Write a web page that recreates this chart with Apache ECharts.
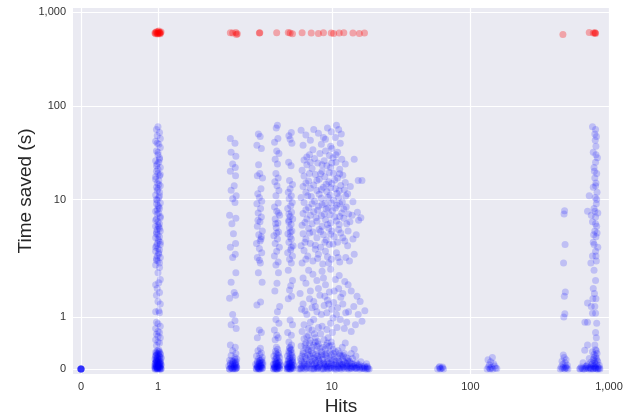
<!DOCTYPE html>
<html><head><meta charset="utf-8">
<script src="https://cdn.jsdelivr.net/npm/echarts@6/dist/echarts.min.js"></script>
<style>html,body{margin:0;padding:0;background:#fff}#c{width:634px;height:417px}</style>
</head><body><div id="c"></div>
<script>
// tick values and labels (symlog axes, linthresh 2)
const tickValues = [0, 1, 10, 100, 1000];
const tickLabels = ['0', '1', '10', '100', '1,000'];

// [hits, seconds] (x has the original's horizontal jitter)
const hitsZero = [[0,0],[0,0],[0,0],[0,0],[0,0],[0,0],[0,0],[0,0]];
const hitsOne = [
[1,0],[0.97,0],[1.03,0],[0.99,0.01],[1.02,0.02],[0.96,0.03],[1.04,0.01],[1,0.04],[0.98,0.05],[1.03,0.06],[0.97,0.07],[1.01,0.08],[1.04,0.09],[0.96,0.1],[0.99,0.11],[1.02,0.12],[0.98,0.14],[1.03,0.15],[1,0.16],[0.97,0.18],[1.02,0.19],[0.99,0.21],[1.04,0.22],[0.97,0.24],[1.01,0.25],[0.98,0.27],[1.03,0.28],[1,0.3],[0.97,0.32],[1.02,0.33],[0.99,0.35],[1.01,0.37],[1,0.02],[0.98,0.06],[1.02,0.04],[1,0.09],[0.97,0.13],[1.03,0.1],[1,0.2],[0.98,0.17],
[0.96,0],[0.99,0],[1.02,0],[1.04,0],[0.97,0.02],[1.0,0.03],[1.03,0.03],[0.98,0.04],[1.01,0.05],[0.96,0.06],[1.04,0.07],[0.99,0.08],[1.02,0.1],[0.97,0.11],[1.0,0.12],[1.03,0.13],[0.98,0.15],[1.01,0.17],[0.96,0.19],[1.04,0.2],[0.99,0.22],[1.02,0.24],[0.97,0.26],[1.0,0.28],[1.03,0.3],[0.98,0.31],[1.01,0.33],[0.99,0.02],[1.01,0.07],[1.0,0.14],
[0.98,0.45],[1.02,0.5],[1,0.52],[0.97,0.56],[1.03,0.6],[1,0.63],[0.98,0.67],[1.02,0.7],[1,0.72],[0.97,0.78],[1.03,0.82],[1,0.87],[0.98,0.9],[1.02,1.08],[0.97,1.1],[1.01,1.12],[1.03,1.25],[1,1.3],[0.98,1.42],[1.02,1.47],[0.97,1.62],[1.01,1.66],[1.03,1.72],[1,1.85],
[1.0,60],[0.98,56],[1.02,52],[0.99,48],[1.03,45],[0.97,42],[1.01,39],[1.03,36],[0.98,33],[1.0,30],[1.02,28],[0.97,26],[1.01,25],[0.99,24],[1.03,22],[0.98,20],[1.0,19],[1.02,18],[0.97,17.5],[1.01,16],[0.99,15],[1.03,14],[0.98,13.5],[1.0,13],[1.02,12],[0.97,11.2],[1.01,10.5],[0.99,9.8],[1.03,9.2],[0.98,9],[1.0,8.6],[1.02,8],[0.97,7.5],[1.01,7.2],[0.99,7],[1.03,6.6],[0.98,6.2],[1.0,5.8],[1.02,5.5],[0.97,5.2],[1.01,5.1],[0.99,4.8],[1.03,4.6],[0.98,4.5],[1.0,4.2],[1.02,4.0],[0.97,3.9],[1.01,3.6],[0.99,3.4],[1.03,3.3],[0.98,3.2],[1.0,3.0],[1.02,2.9],[0.97,2.8],[1.01,2.6],[0.99,2.5],[1.03,2.4],[0.98,2.25],[1.0,2.2],[1.02,2.1],[0.97,2.0],
[0.99,1.55],[1.02,1.95],[0.98,2.35],[1.01,2.7],[0.97,3.1],[1.03,3.5],[1.0,3.8],[0.98,4.3],[1.02,4.9],[1.0,5.3],[0.97,6],[1.03,6.4],[0.99,7.8],[1.01,8.3],[0.98,10],[1.02,11],[0.99,12.5],[1.01,14.5],[0.97,16.5],[1.03,18.5],[1.0,21],[0.98,23],[1.02,27],[1.0,32],[0.99,40]
];
const hitsTwo = [
[1.97,0],[1.93,0],[2.03,0.01],[1.95,0.02],[2.06,0.03],[1.99,0.04],[1.92,0.06],[2.05,0.07],[1.97,0.09],[1.94,0.11],[2.02,0.12],[1.98,0.15],[1.93,0.17],[2.06,0.19],[2.0,0.22],[1.95,0.26],[2.03,0.3],[1.97,0.35],[2.01,0.42],[1.94,0.46],[1.99,0.01],[1.96,0.05],[2.01,0.08],[1.97,0.13],
[1.93,0],[1.97,0.01],[2.01,0],[2.05,0.02],[1.95,0.03],[1.99,0.06],[2.03,0.05],[1.94,0.08],[2.0,0.1],[2.04,0.14],[1.96,0.16],[2.0,0.18],
[2.04,0.78],[1.95,0.85],[2.0,0.93],[1.97,1.05],[1.93,1.36],[2.02,1.42],[1.99,1.47],[1.95,1.67],[2.03,1.85],[1.97,2.4],[2.01,2.6],[1.94,3.1],[2.02,3.4],[1.98,4.3],[1.96,5.5],[2.03,6.3],[1.93,6.8],[2.0,9.3],[1.97,10.2],[2.04,11],[1.95,12.6],[1.99,14],[2.02,18],[1.94,20],[2.01,22],[1.97,24],[2.03,29],[1.95,32],[2.0,40],[1.94,45]
];
const hitsThree = [
[3,0],[2.85,0],[3.15,0.01],[2.95,0.02],[3.1,0.03],[2.9,0.05],[3.05,0.06],[3.18,0.08],[2.82,0.09],[3,0.11],[3.12,0.13],[2.9,0.15],[3.05,0.17],[2.97,0.2],[3.15,0.22],[2.86,0.25],[3.02,0.28],[3.1,0.31],[2.93,0.35],[3.05,0.4],[3,0.01],[2.92,0.04],[3.08,0.07],[3,0.12],
[2.85,0.01],[2.95,0],[3.05,0],[3.15,0.02],[2.9,0.03],[3.0,0.05],[3.1,0.05],[2.88,0.07],[2.98,0.08],[3.08,0.1],[3.18,0.12],[2.92,0.13],[3.02,0.16],[3.12,0.18],
[2.9,0.6],[3.1,0.7],[3.0,0.75],[2.88,1.23],[3.06,1.29],[3.14,1.67],[2.95,1.85],[3.05,2.1],[2.9,2.4],[3.12,2.7],[3.0,3.0],[2.86,3.4],[3.08,3.8],[2.97,4.2],[3.15,4.6],[2.9,5.2],[3.03,5.8],[3.1,6.5],[2.94,7.2],[3.06,8],[2.88,9],[3.12,9.6],[3.0,10.5],[2.92,11.5],[3.08,13],[3.16,17],[2.9,18],[3.02,19],[2.96,23.5],[3.1,35],[2.88,38],[3.04,47],[2.95,50],[3.0,2.25],[3.04,3.6],[2.93,6],[3.1,4.0]
];
const hitsFour = [
[4,0],[3.8,0],[4.2,0.01],[3.9,0.02],[4.1,0.03],[3.85,0.05],[4.05,0.06],[4.25,0.08],[3.78,0.09],[4,0.11],[4.15,0.13],[3.9,0.15],[4.08,0.17],[3.96,0.2],[4.2,0.22],[3.82,0.25],[4.03,0.28],[4.12,0.31],[3.92,0.34],[4.06,0.38],[3.98,0.42],[4,0.01],[3.88,0.04],[4.1,0.07],[4,0.14],[3.95,0.1],
[3.8,0.01],[3.92,0],[4.05,0],[4.18,0.02],[3.85,0.03],[3.98,0.05],[4.1,0.04],[4.22,0.06],[3.82,0.08],[3.95,0.12],[4.08,0.1],[4.2,0.14],[3.88,0.18],[4.0,0.22],[4.12,0.26],[3.95,0.3],
[3.9,0.56],[4.1,0.6],[4.0,0.65],[3.85,0.75],[4.15,0.88],[3.95,0.95],[4.05,1.1],[4.2,1.2],[3.88,1.5],[4.02,1.65],[4.12,1.85],
[3.95,2.0],[4.1,2.15],[3.85,2.5],[4.0,2.8],[4.18,3.1],[3.9,3.4],[4.05,3.8],[3.82,4.1],[4.12,4.5],[3.97,5],[4.08,5.6],[3.9,6.2],[4.2,6.8],[4.0,7.5],[3.86,8.3],[4.1,9.2],[3.95,11],[4.15,12.5],[4.02,14],[3.88,15.5],[4.1,17],[3.95,19],[4.05,24],[3.9,27],[4.15,31],[4.0,33],[3.86,41],[4.08,45],[3.97,58],[4.05,62],[4.0,4.4],[3.93,5.5],[4.12,7.2]
];
const hitsFive = [
[5,0],[4.75,0],[5.25,0.01],[4.88,0.02],[5.12,0.03],[4.8,0.05],[5.05,0.06],[5.3,0.08],[4.72,0.09],[5,0.11],[5.18,0.13],[4.85,0.15],[5.1,0.17],[4.95,0.2],[5.22,0.22],[4.78,0.25],[5.03,0.28],[5.15,0.31],[4.9,0.34],[5.08,0.38],[4.98,0.42],[5.12,0.46],[5,0.01],[4.85,0.04],[5.15,0.07],[5,0.14],[4.92,0.1],[5.2,0.18],
[4.75,0.01],[4.9,0],[5.05,0],[5.2,0.02],[4.8,0.03],[4.95,0.05],[5.1,0.04],[5.28,0.06],[4.78,0.08],[4.92,0.12],[5.08,0.1],[5.22,0.14],[4.85,0.18],[5.0,0.22],[5.15,0.26],[4.9,0.3],[5.05,0.36],[4.95,0.4],
[4.9,0.52],[5.1,0.65],[4.8,0.7],[5.2,0.85],[5.0,0.94],[4.85,1.35],[5.12,1.4],[4.95,1.52],[5.05,1.6],[5.2,1.7],
[4.85,1.9],[5.1,2.1],[4.95,2.3],[5.2,2.5],[4.8,2.7],[5.05,2.9],[5.25,3.2],[4.9,3.5],[5.1,3.8],[5.0,4.0],[4.82,4.3],[5.15,4.6],[4.95,5.0],[5.08,5.4],[4.88,5.8],[5.22,6.2],[5.0,6.6],[4.9,7.0],[5.12,7.3],[4.8,8],[5.05,8.6],[5.18,9.3],[4.92,10.2],[5.1,11],[4.85,12],[5.0,13],[5.2,14.5],[4.95,16],[5.08,23],[4.88,25],[5.15,40],[5.0,44],[4.9,48],[5.1,52],[5.02,4.5],[4.9,6.0],[5.1,3.1]
];
const hitsSixToEighteenLow = [
[5.8,0],[6.2,0.02],[6.5,0.05],[5.9,0.08],[6.8,0.1],[6.1,0.13],[6.6,0.16],[5.95,0.2],[6.4,0.24],[6.9,0.28],[6.2,0.33],[6.7,0.38],[6.0,0.44],[6.5,0.5],[6.3,0.58],[6.8,0.65],[6.1,0.72],[6.6,0.01],[6.3,0.09],[6.0,0.03],
[7.1,0],[7.5,0.02],[7.9,0.04],[7.3,0.07],[8.2,0.09],[7.7,0.12],[7.2,0.15],[8.0,0.18],[7.5,0.22],[8.4,0.26],[7.3,0.3],[7.8,0.35],[8.2,0.4],[7.4,0.46],[7.9,0.53],[7.6,0.6],[8.3,0.68],[7.2,0.75],[7.8,0.01],[8.1,0.06],
[8.7,0],[9.2,0.01],[9.8,0.03],[8.9,0.05],[10.3,0.07],[9.5,0.1],[8.8,0.13],[10.0,0.16],[9.3,0.2],[10.4,0.24],[8.9,0.28],[9.7,0.33],[10.2,0.38],[9.1,0.45],[9.9,0.52],[9.4,0.6],[10.1,0.7],[9.6,0.02],[10.4,0.04],[9.0,0.09],
[10.8,0],[11.4,0.01],[12.1,0.03],[12.8,0.05],[11.0,0.07],[11.8,0.09],[12.5,0.12],[11.2,0.15],[12.0,0.18],[12.7,0.22],[11.5,0.26],[12.3,0.3],[11.1,0.35],[11.9,0.42],[12.5,0.5],[11.6,0.03],[12.9,0.01],
[13.3,0],[13.9,0.02],[14.6,0.01],[15.2,0.03],[15.9,0],[16.7,0.02],[17.5,0],[18.3,0.01],[13.6,0.06],[14.3,0.09],[15.0,0.12],[15.8,0.08],[16.5,0.05],[17.2,0.06],[18,0.03],[13.4,0.15],[14.1,0.2],[14.9,0.25],[16.2,0.14],[13.8,0.3],[14.5,0.38],[17.8,0.1],
[5.9,0.01],[6.4,0],[6.9,0.02],[7.4,0],[7.9,0.01],[8.4,0],[8.9,0.02],[9.4,0],[9.9,0.01],[10.5,0],[11.1,0.02],[11.7,0],[12.3,0.01],[13.0,0.03],[13.7,0.01],[14.4,0.04],[15.1,0.01],[16.0,0.03],[17.0,0.01],[18.0,0],
[6.1,0.06],[6.7,0.08],[7.2,0.1],[7.7,0.05],[8.3,0.12],[8.8,0.08],[9.3,0.06],[9.9,0.12],[10.6,0.1],[11.3,0.13],[12.0,0.08],[12.8,0.1],[13.5,0.12],[14.7,0.07],
[6.0,0.16],[6.5,0.2],[7.0,0.24],[7.6,0.17],[8.1,0.22],[8.6,0.19],[9.1,0.25],[9.7,0.2],[10.4,0.18],[11.0,0.22],[11.8,0.24],[13.1,0.2],
[6.2,0.3],[6.8,0.36],[7.2,0.42],[7.7,0.28],[8.4,0.33],[9.0,0.38],[9.6,0.44],[10.3,0.3],[6.4,0.46],[7.0,0.55],[8.0,0.48],[8.8,0.56],[6.6,0.62],[7.5,0.68],
[6.0,0],[6.6,0.03],[7.3,0.01],[8.0,0.03],[8.6,0.01],[9.2,0.04],[9.8,0.06],[10.4,0.02],[11.0,0.04],[11.6,0.06],[12.2,0.05],[12.9,0.07],[13.6,0.03],[14.2,0.05],[14.9,0.02],[15.6,0.05],[16.4,0.01],[17.3,0.03],[18.1,0.05],[18.6,0],
[6.3,0.12],[6.9,0.14],[7.5,0.09],[8.1,0.15],[8.7,0.11],[9.3,0.14],[10.0,0.09],[10.7,0.15],[11.4,0.1],[12.2,0.14],[13.0,0.16],[13.9,0.1],[15.3,0.08],
[6.1,0.25],[6.7,0.27],[7.3,0.2],[7.9,0.25],[8.5,0.28],[9.2,0.31],[9.9,0.27],[10.6,0.33],[11.4,0.3],[12.1,0.26],
[6.5,0.4],[7.1,0.35],[7.8,0.44],[8.6,0.42],[9.3,0.5],[10.0,0.45],[6.9,0.5],[7.6,0.52]
];
const hitsSixToEighteenHigh = [
[6.3,0.85],[7.0,0.9],[8.5,0.82],[9.8,0.88],[11.5,0.95],[12.8,0.9],[14.8,0.85],[16.5,0.92],[6.6,1.05],[7.8,1.1],[9.2,1.08],[10.8,1.05],[13.2,1.1],[15.5,1.05],[17.3,1.12],[6.2,1.25],[7.4,1.3],[8.8,1.22],[10.3,1.28],[12.0,1.25],[5.9,1.45],[7.0,1.5],[8.2,1.42],[9.6,1.48],[11.2,1.55],[6.5,1.65],[7.8,1.7],[9.0,1.62],[10.6,1.72],[12.4,1.68],[8.5,1.88],[6.8,1.9],
[6.8,0.78],[8.0,0.8],[9.2,0.76],[10.9,0.8],[12.3,0.78],[13.8,0.72],[7.4,0.95],[10.2,0.98],
[6.4,1.12],[7.6,1.2],[8.4,1.05],[9.5,1.25],[11.0,1.18],[12.6,1.08],[14.4,1.2],[6.9,1.35],[8.0,1.55],[9.3,1.32],[10.4,1.5],[12.0,1.45],[6.2,1.75],[7.3,1.82],[8.7,1.75],[9.8,1.92],[11.3,1.8],[13.1,1.62],[15.2,1.4],
[6.1,2.1],[7.3,2.2],[8.6,2.05],[9.9,2.3],[11.4,2.15],[6.7,2.5],[8.0,2.6],[9.3,2.45],[10.8,2.7],[12.6,2.4],[6.3,2.85],[7.6,2.95],[9.0,2.8],[14.5,2.6],
[6.0,3.2],[7.0,3.4],[8.3,3.1],[9.6,3.3],[11.0,3.5],[13.0,3.2],[6.5,3.8],[7.8,3.9],[9.1,3.7],[10.4,4.0],[12.0,3.9],[6.2,4.3],[7.3,4.5],[8.7,4.2],[10.0,4.6],[11.6,4.4],[15.0,4.2],[6.8,4.9],[8.1,4.8],[9.5,4.95],
[6.1,5.3],[7.2,5.5],[8.5,5.2],[9.8,5.6],[11.3,5.4],[13.5,5.8],[6.6,6.2],[7.7,6.4],[9.0,6.1],[10.5,6.5],[12.2,6.3],[14.0,6.8],[16.2,6.4],[6.2,7.1],[7.4,7.4],[8.8,7.0],[10.1,7.6],[11.8,7.2],[15.3,7.3],[6.8,8.2],[8.0,8.5],[9.4,8.1],[10.9,8.7],[12.7,8.3],[6.3,9.3],[7.5,9.6],[8.9,9.1],[10.3,9.8],[11.9,9.4],
[6.0,10.5],[7.1,10.8],[8.4,10.3],[9.7,11.2],[11.2,10.6],[13.0,11.5],[6.5,12],[7.8,12.5],[9.2,12.2],[10.6,13],[12.3,12.7],[6.2,13.8],[7.4,14.3],[8.7,13.5],[10.0,14.8],[11.6,14.1],[15.5,16],[16.5,16],[6.8,15.8],[8.1,16.5],[9.5,15.5],[11.0,17],[6.3,17.8],[7.6,18.5],[8.9,17.5],[10.3,19],[12.0,18.2],
[6.1,20.5],[7.2,21.5],[8.5,20],[9.8,22],[11.4,21],[6.6,23.5],[7.9,24.5],[9.2,23],[10.7,25],[12.5,24],[6.3,26.5],[7.5,27.5],[8.8,26],[10.2,28],[11.8,27],[14.5,27],[6.9,30],[8.2,31],[9.6,29.5],[11.0,32],[7.3,34],[10.0,35],
[6.2,38],[8.4,39],[9.8,37],[11.5,40],[7.0,43],[9.0,44],[10.6,46],[6.5,49],[8.0,51],[9.9,53],[11.7,50],[7.4,56],[9.3,58],[10.8,62],[6.0,55],
[6.05,1.15],[7.2,1.18],[8.9,1.4],[10.0,1.15],[11.6,1.38],[13.8,1.5],[16.0,1.3],
[6.5,2.3],[7.9,2.35],[9.5,2.1],[11.1,2.4],[13.4,2.2],
[6.4,3.5],[7.6,3.25],[8.9,3.5],[10.2,3.35],[12.4,3.6],[14.2,3.8],
[6.9,4.4],[8.3,4.55],[9.8,4.25],[11.2,4.8],[13.1,4.6],
[6.4,5.7],[7.8,5.85],[9.3,5.4],[10.8,5.9],[12.8,5.5],[15.6,6.0],
[7.0,6.8],[8.4,6.7],[9.7,6.9],[11.4,6.6],[13.2,7.0],
[6.5,7.8],[7.9,7.7],[9.1,7.9],[10.6,8.1],[12.2,7.9],
[7.2,9.0],[8.5,8.8],[9.9,9.2],[11.4,9.0],[14.2,9.5],
[6.7,11],[8.1,11.4],[9.4,10.6],[10.9,11.6],[12.6,10.9],
[7.0,13.2],[8.4,12.8],[9.8,13.4],[11.3,12.4],[13.6,13.8],
[6.5,15],[7.8,16],[9.1,14.6],[10.5,16.2],[12.5,15.2],
[6.9,19],[8.3,18.8],[9.6,19.5],[11.4,18.8],
[7.0,25],[8.5,23.5],[10.0,24.5],[6.6,28.5],[9.0,33],[10.7,30],[8.7,46],[11.2,56]
];
const hitsSixty = [[58,0],[61,0.01],[64,0],[59.5,0.03],[62.5,0.02],[60,0.05],[63,0.04],[60.5,0]];
const hitsOneForty = [[132,0],[138,0.01],[145,0],[152,0.02],[135,0.04],[142,0.03],[150,0.06],[137,0.08],[147,0.1],[140,0.14],[134,0.18],[144,0.22],[139,0],[155,0.01]];
const hitsFourSeventy = [[445,0],[460,0.01],[478,0],[495,0.02],[505,0],[452,0.04],[470,0.03],[488,0.05],[500,0.07],[465,0.09],[482,0.12],[458,0.15],[490,0.18],[475,0.22],[468,0.27],[485,0.02],[472,1.0],[480,1.06],[476,1.4],[484,1.48],[470,2.1],[482,3.3],[474,7.0],[478,7.6]];
const hitsEightHundred = [
[615,0],[640,0.01],[665,0],[690,0.02],[715,0],[740,0.01],[765,0],[790,0.02],[815,0],[840,0.01],[860,0],[630,0.04],[680,0.05],[730,0.03],[780,0.06],[830,0.04],[700,0.08],[760,0.1],[810,0.09],[850,0.07],[740,0.13],[790,0.15],[830,0.14],[770,0.18],[810,0.21],[800,0.25],[780,0.28],[820,0.3],[760,0.33],[800,0.37],[650,0.12],[720,0.2],[800,0.01],[770,0.05],
[620,0.01],[650,0],[680,0.01],[710,0.02],[740,0],[770,0.01],[800,0.03],[830,0],[855,0.02],[690,0.06],[750,0.08],[790,0.11],[820,0.17],[780,0.22],[810,0.35],
[668,0.36],[700,0.46],[790,0.46],[810,0.6],[800,0.7],[670,0.9],[700,0.9],[815,0.88],[760,1.07],[800,1.07],[745,1.2],[790,1.2],[700,1.27],[765,1.35],[805,1.35],[800,1.7],[770,1.55],
[780,1.9],[810,2.2],[760,2.5],[800,2.8],[830,3.1],[770,3.5],[805,4.0],[790,4.6],[815,5.2],[760,5.8],[800,6.5],[830,7.2],[780,8],[810,9],[795,10.5],[820,12],[770,13.5],[805,15],[790,17],[815,19],[780,22],[800,25],[825,28],[770,32],[805,37],[795,43],[812,47],[800,56],[760,60],[780,3.3],[820,4.4],[745,6.8],[740,2.1],[700,7.5],[720,11],
[785,1.45],[805,2.5],[775,4.2],[800,5.5],[790,7.5],[815,10],[800,14],[785,20],[805,30],[790,50]
];
// points drawn in red (about 600 s)
const cappedPoints = [[1,600],[0.97,610],[1.03,590],[0.98,620],[1.02,605],[1.0,585],[0.96,600],[1.04,615],[0.99,595],[1.01,630],[1.03,610],[0.97,590],[1.0,620],[1.02,598],
[1.97,600],[2.03,610],[2.08,590],[1.94,605],[2.05,580],[3,600],[3.02,605],[4,605],[5,600],[5.2,590],[4.85,610],[6.1,605],[7.1,600],[8,595],[8.7,605],[9.9,600],[10.3,595],[11.3,600],[12.2,605],[14.2,600],[15.8,595],[17.2,600],[465,580],[720,610],[770,600],[790,600],[800,595],[795,605]];

const LINTHRESH = 2, LINSCALE = 1 / (1 - 1 / 10);
function symlog(v) {
  const a = Math.abs(v), s = v < 0 ? -1 : 1;
  return a <= LINTHRESH ? s * a / LINTHRESH * LINSCALE : s * (LINSCALE + Math.log10(a / LINTHRESH));
}
const blue = [].concat(hitsZero, hitsOne, hitsTwo, hitsThree, hitsFour, hitsFive, hitsSixToEighteenLow, hitsSixToEighteenHigh, hitsSixty, hitsOneForty, hitsFourSeventy, hitsEightHundred);
const tickPos = tickValues.map(symlog);
function labelFor(v) {
  let best = 0;
  tickPos.forEach((p, i) => { if (Math.abs(p - v) < Math.abs(tickPos[best] - v)) best = i; });
  return tickLabels[best];
}
const font = 'Liberation Sans, Arial, sans-serif';
const xMax = symlog(1000);
const chart = echarts.init(document.getElementById('c'), null, {renderer: 'canvas'});
chart.setOption({
  animation: false,
  backgroundColor: '#ffffff',
  grid: {left: 73, right: 25, top: 8, bottom: 43, show: true, backgroundColor: '#EAEAF2', borderWidth: 0, containLabel: false, outerBoundsMode: 'none'},
  xAxis: {
    type: 'value', min: -0.0577, max: xMax,
    name: 'Hits', nameLocation: 'middle', nameGap: 21,
    nameTextStyle: {fontSize: 19, color: '#262626', fontFamily: font},
    axisLine: {show: false}, axisTick: {show: false, customValues: tickPos},
    axisLabel: {customValues: tickPos, formatter: labelFor, fontSize: 11, color: '#333', fontFamily: font, margin: 7},
    splitLine: {show: true, lineStyle: {color: '#ffffff', width: 1.2}}
  },
  yAxis: {
    type: 'value', min: -0.0534, max: 3.856,
    name: 'Time saved (s)', nameLocation: 'middle', nameGap: 38, nameRotate: 90, nameMoveOverlap: false,
    nameTextStyle: {fontSize: 19, color: '#262626', fontFamily: font},
    axisLine: {show: false}, axisTick: {show: false, customValues: tickPos},
    axisLabel: {customValues: tickPos, formatter: labelFor, fontSize: 11, color: '#333', fontFamily: font, margin: 7},
    splitLine: {show: true, lineStyle: {color: '#ffffff', width: 1.2}}
  },
  series: [
    {type: 'scatter', symbolSize: 7, data: blue.map(p => [symlog(p[0]), symlog(p[1])]),
     itemStyle: {color: '#0000ff', opacity: 0.18}},
    {type: 'scatter', symbolSize: 7, data: cappedPoints.map(p => [symlog(p[0]), symlog(p[1])]),
     itemStyle: {color: '#ff0000', opacity: 0.3}}
  ]
});
</script></body></html>
